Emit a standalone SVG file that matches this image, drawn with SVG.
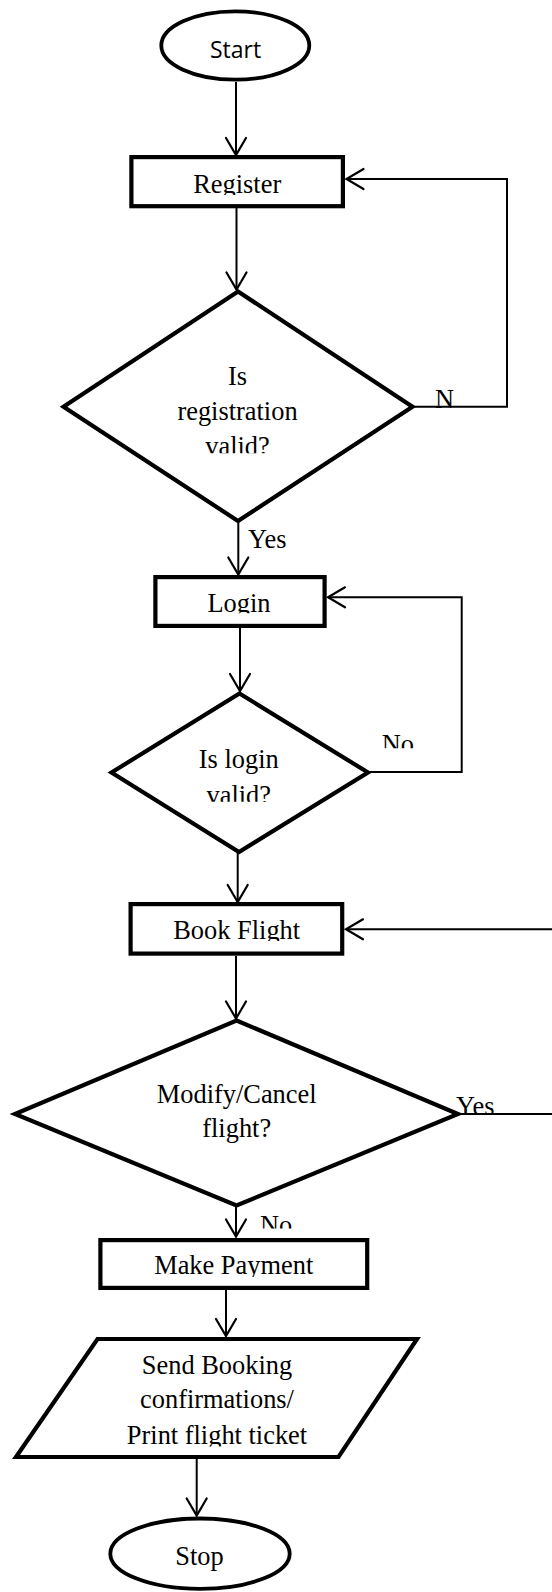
<svg xmlns="http://www.w3.org/2000/svg" width="552" height="1592" viewBox="0 0 552 1592">
  <style>
    .shape { fill: #fff; stroke: #000; stroke-width: 4.2; stroke-linejoin: miter; }
    .term { fill: #fff; stroke: #000; stroke-width: 3.8; }
    .conn { fill: none; stroke: #000; stroke-width: 2; }
    .lbl { font-family: "Liberation Serif", "Times New Roman", serif; font-size: 26.4px; fill: #000; }
    .mid { text-anchor: middle; }
    .sans { font-family: "Open Sans", "Liberation Sans", sans-serif; font-size: 23px; fill: #000; }
  </style>
  <defs>
    <marker id="arrow" viewBox="-20 -12 24 24" markerWidth="24" markerHeight="24" refX="0" refY="0" markerUnits="userSpaceOnUse" orient="auto">
      <path d="M -17,-10 L 0,0 L -17,10" fill="none" stroke="#000" stroke-width="2.2" stroke-linecap="round" stroke-linejoin="miter"/>
    </marker>
    <!-- text boxes that cut off the bottom of their last line -->
    <clipPath id="clipReg" clipPathUnits="userSpaceOnUse"><rect x="0" y="160" width="552" height="35"/></clipPath>
    <clipPath id="clipValid1" clipPathUnits="userSpaceOnUse"><rect x="0" y="360" width="552" height="93.3"/></clipPath>
    <clipPath id="clipLogin" clipPathUnits="userSpaceOnUse"><rect x="0" y="580" width="552" height="33.3"/></clipPath>
    <clipPath id="clipNo1" clipPathUnits="userSpaceOnUse"><rect x="370" y="720" width="80" height="28.3"/></clipPath>
    <clipPath id="clipValid2" clipPathUnits="userSpaceOnUse"><rect x="0" y="740" width="552" height="61.7"/></clipPath>
    <clipPath id="clipBook" clipPathUnits="userSpaceOnUse"><rect x="0" y="910" width="552" height="31"/></clipPath>
    <clipPath id="clipYes3" clipPathUnits="userSpaceOnUse"><rect x="440" y="1085" width="100" height="28.5"/></clipPath>
    <clipPath id="clipNo2" clipPathUnits="userSpaceOnUse"><rect x="250" y="1200" width="80" height="28.5"/></clipPath>
    <clipPath id="clipPay" clipPathUnits="userSpaceOnUse"><rect x="0" y="1245" width="552" height="32"/></clipPath>
    <clipPath id="clipTicket" clipPathUnits="userSpaceOnUse"><rect x="0" y="1345" width="552" height="101.5"/></clipPath>
  </defs>

  <!-- connectors -->
  <g id="connectors">
    <line class="conn" x1="236" y1="82" x2="236" y2="155" marker-end="url(#arrow)"/>
    <line class="conn" x1="236.5" y1="208" x2="236.5" y2="289.5" marker-end="url(#arrow)"/>
    <polyline class="conn" points="414,406.7 507,406.7 507,179 346.5,179" marker-end="url(#arrow)"/>
    <line class="conn" x1="238.3" y1="522" x2="238.3" y2="574.5" marker-end="url(#arrow)"/>
    <polyline class="conn" points="369,772 461.7,772 461.7,597.3 328,597.3" marker-end="url(#arrow)"/>
    <line class="conn" x1="240" y1="628" x2="240" y2="691" marker-end="url(#arrow)"/>
    <line class="conn" x1="237.7" y1="853" x2="237.7" y2="902" marker-end="url(#arrow)"/>
    <line class="conn" x1="552" y1="929.3" x2="346" y2="929.3" marker-end="url(#arrow)"/>
    <line class="conn" x1="459" y1="1114" x2="552" y2="1114"/>
    <line class="conn" x1="236" y1="956" x2="236" y2="1018.5" marker-end="url(#arrow)"/>
    <line class="conn" x1="236" y1="1207" x2="236" y2="1236.5" marker-end="url(#arrow)"/>
    <line class="conn" x1="226" y1="1290" x2="226" y2="1336" marker-end="url(#arrow)"/>
    <line class="conn" x1="196.7" y1="1459" x2="196.7" y2="1515.5" marker-end="url(#arrow)"/>
  </g>

  <g id="start">
    <ellipse class="term" cx="235.3" cy="45.5" rx="74" ry="34.2"/>
    <text class="sans mid" x="235.5" y="57.5">Start</text>
  </g>

  <g id="register">
    <rect class="shape" x="131.4" y="157.1" width="211.5" height="49.1"/>
    <text class="lbl mid" x="237.2" y="193.3" clip-path="url(#clipReg)">Register</text>
  </g>

  <g id="check-registration">
    <polygon class="shape" points="238,291.5 412.5,406.7 238,521 63.5,406.7"/>
    <g clip-path="url(#clipValid1)">
      <text class="lbl mid" x="237.5" y="385">Is</text>
      <text class="lbl mid" x="237.5" y="420">registration</text>
      <text class="lbl mid" x="237.5" y="455">valid?</text>
    </g>
    <text class="lbl" x="435" y="407.5">N</text>
    <text class="lbl" x="248" y="548.3">Yes</text>
  </g>

  <g id="login">
    <rect class="shape" x="155.4" y="577.1" width="169.2" height="48.8"/>
    <text class="lbl mid" x="239" y="612.3" clip-path="url(#clipLogin)">Login</text>
  </g>

  <g id="check-login">
    <polygon class="shape" points="239.5,693.5 368,772.5 239,852 111.5,772.5"/>
    <g clip-path="url(#clipValid2)">
      <text class="lbl mid" x="238.8" y="767.7">Is login</text>
      <text class="lbl mid" x="238.8" y="803.5">valid?</text>
    </g>
    <text class="lbl" x="381.7" y="752.5" clip-path="url(#clipNo1)">No</text>
  </g>

  <g id="book-flight">
    <rect class="shape" x="130.6" y="904.1" width="211.6" height="49.5"/>
    <text class="lbl mid" x="236.7" y="939" clip-path="url(#clipBook)">Book Flight</text>
  </g>

  <g id="check-change">
    <polygon class="shape" points="236.5,1020.5 458,1114 236.5,1205.5 15,1114"/>
    <text class="lbl mid" x="236.7" y="1102.7">Modify/Cancel</text>
    <text class="lbl mid" x="236.7" y="1137.3">flight?</text>
    <text class="lbl" x="456" y="1114.5" clip-path="url(#clipYes3)">Yes</text>
    <text class="lbl" x="260" y="1234.2" clip-path="url(#clipNo2)">No</text>
  </g>

  <g id="make-payment">
    <rect class="shape" x="100.4" y="1240.1" width="266.8" height="47.8"/>
    <text class="lbl mid" x="233.7" y="1274.3" clip-path="url(#clipPay)">Make Payment</text>
  </g>

  <g id="confirm-output">
    <polygon class="shape" points="97.5,1339 417,1339 338.5,1457 16,1457"/>
    <g clip-path="url(#clipTicket)">
      <text class="lbl mid" x="217" y="1374">Send Booking</text>
      <text class="lbl mid" x="217" y="1408.3">confirmations/</text>
      <text class="lbl mid" x="217" y="1444">Print flight ticket</text>
    </g>
  </g>

  <g id="stop">
    <ellipse class="term" cx="200" cy="1553.7" rx="89.7" ry="35.2"/>
    <text class="lbl mid" x="199.5" y="1565">Stop</text>
  </g>
</svg>
